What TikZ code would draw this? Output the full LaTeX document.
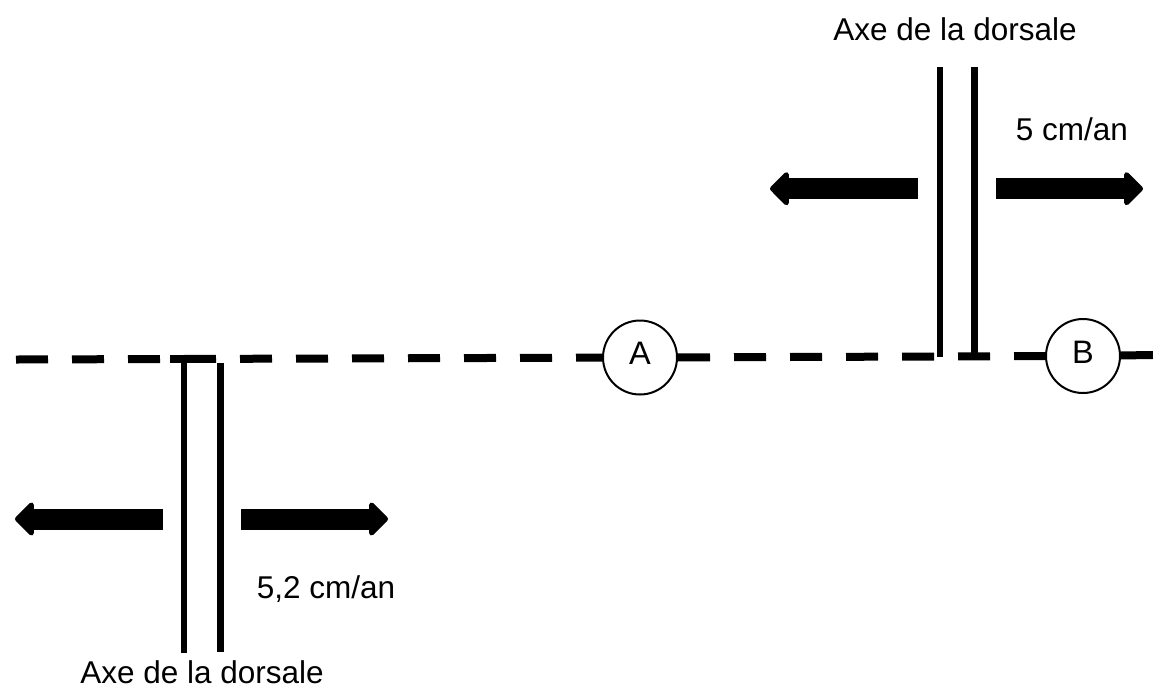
\documentclass[tikz,border=0pt]{standalone}
\usepackage{fontspec}
\setmainfont{Liberation Sans}
\usetikzlibrary{arrows.meta}
\tikzset{
  lbl/.style={font=\fontsize{31.5}{36}\selectfont, inner sep=0pt, anchor=base},
  plate/.style={draw, line width=2pt, circle, minimum size=74pt, inner sep=0pt,
    font=\fontsize{32.5}{36}\selectfont, text depth=8pt, fill=white},
  transform/.style={line width=8pt, dash pattern=on 32pt off 24pt},
  ridge/.style={line width=6.5pt},
  spread/.style={line width=21pt, -{Triangle[length=20pt,width=39pt,round]}},
}
\begin{document}
\begin{tikzpicture}[x=1pt, y=-1pt]
\useasboundingbox (0,0) rectangle (1153,689);

% plates on the fault
\node[plate] (A) at (640,357.5) {A};
\node[plate] (B) at (1083,356) {B};

% transform fault (dashed)
\coordinate (fl) at (16,359.5);
\coordinate (fr) at (1153,355);
\draw[transform] (fl) -- (A);
\draw[transform] (A) -- (B);
\draw[transform] (B) -- (fr);

% upper ridge axis
\coordinate (u1t) at (940,67);
\coordinate (u1b) at (940,357);
\coordinate (u2t) at (974.5,67);
\coordinate (u2b) at (974.5,353);
\draw[ridge] (u1t) -- (u1b);
\draw[ridge] (u2t) -- (u2b);

% lower ridge axis
\coordinate (d1t) at (184,356);
\coordinate (d1b) at (184,653);
\coordinate (d2t) at (220.5,363);
\coordinate (d2b) at (220.5,652);
\coordinate (c1) at (170,359);
\coordinate (c2) at (198,359);
\draw[ridge] (d1t) -- (d1b);
\draw[ridge] (d2t) -- (d2b);
\draw[line width=8pt] (c1) -- (c2);

% spreading arrows, upper ridge
\coordinate (ul0) at (918,188.7);
\coordinate (ul1) at (770,188.7);
\coordinate (ur0) at (996,188.7);
\coordinate (ur1) at (1143,188.7);
\draw[spread] (ul0) -- (ul1);
\draw[spread] (ur0) -- (ur1);

% spreading arrows, lower ridge
\coordinate (dl0) at (163,519);
\coordinate (dl1) at (15,519);
\coordinate (dr0) at (241,519);
\coordinate (dr1) at (388,519);
\draw[spread] (dl0) -- (dl1);
\draw[spread] (dr0) -- (dr1);

% labels
\node[lbl] (t1) at (955,40) {Axe de la dorsale};
\node[lbl] (t2) at (1072,140) {5 cm/an};
\node[lbl] (t3) at (326,598) {5,2 cm/an};
\node[lbl] (t4) at (202,683.5) {Axe de la dorsale};
\end{tikzpicture}
\end{document}
